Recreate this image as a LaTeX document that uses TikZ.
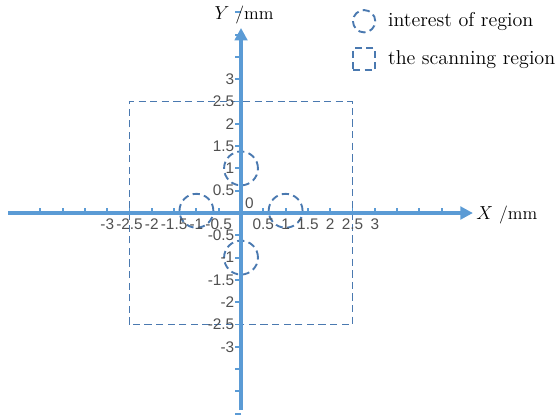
\documentclass[tikz,border=0pt]{standalone}
\usepackage{fontspec}
\newfontfamily\ticksf{Liberation Sans}
\usepackage{xcolor}
\usepackage{tikz}
\usetikzlibrary{positioning}
\usetikzlibrary{arrows.meta,calc}

\definecolor{axisblue}{HTML}{5B9BD5}
\definecolor{regionblue}{HTML}{4A79B0}
\definecolor{ticklabel}{HTML}{505050}

\tikzset{
	axisline/.style={axisblue, line width=2.5pt, -{Triangle[length=8pt,width=8pt]}},
	tickmark/.style={axisblue, line width=1.2pt},
	regionline/.style={regionblue, line width=1.2pt, dash pattern=on 4.6pt off 2.8pt},
	ticknum/.style={ticklabel, font=\ticksf\fontsize{9.8}{10}\selectfont, inner sep=1pt},
	legendtext/.style={font=\fontsize{12.8}{14}\selectfont, anchor=west, inner sep=0pt},
	axislabel/.style={font=\fontsize{11.5}{13}\selectfont, inner sep=0pt},
}

\begin{document}
\begin{tikzpicture}[x=1cm,y=1cm]
	
	\useasboundingbox (-5.404,-4.507) rectangle (7.040,4.776);
	
	% origin and the four ends of the axes
	\coordinate (O) at (0,0);
	\coordinate (XL) at (-5.22,0);
	\coordinate (XR) at (5.20,0);
	\coordinate (YB) at (0,-4.42);
	\coordinate (YT) at (0,4.15);
	
	% the scanning region, 5 x 5
	\coordinate (SLow) at (-2.5,-2.5);
	\coordinate (SHigh) at (2.5,2.5);
	\draw[regionline] (SLow) rectangle (SHigh);
	
	% regions of interest: (angle:radius) round the origin
	\foreach \a in {0,90,180,270}
		\draw[regionline] (\a:1.00cm) ++(0,{0.05*cos(\a)*cos(\a)}) circle (0.38cm);
	
	%%%%%%%%%%%%%%%%%%%%%%%%%%%%%%%%%%%%%%%%%%%%%%%%%%%%%%%%%%%%%%
	% axes
	\draw[axisline] (XL) -- (XR);
	\draw[axisline] (YB) -- (YT);
	
	% tick marks every 0.5
	\foreach \v in {-4.5,-4,...,-0.5,0.5,1,...,4.5}{
		\draw[tickmark] (\v,0) -- ++(0,0.12);
		\draw[tickmark] (0,\v) -- ++(-0.13,0);
	}
	
	% tick labels
	\foreach \v/\t [count=\i] in {-3/-3,-2.5/-2.5,-2/-2,-1.5/-1.5,-1/-1,-0.5/-0.5,
		0.5/0.5,1/1,1.5/1.5,2/2,2.5/2.5,3/3}{
		\node[ticknum, anchor=north] (XT\i) at (\v,-0.09) {\t};
		\node[ticknum, anchor=east] (YT\i) at (-0.11,\v) {\t};
	}
	\node[ticknum] (Zero) at (0.19,0.22) {0};
	
	% axis names
	\node[axislabel, anchor=west] (XLabel) at ($(XR)+(0.07cm,-0.04cm)$) {$X$ /mm};
	\node[axislabel, anchor=south] (YLabel) at ($(YT)+(0.07cm,0.08cm)$) {$Y$ /mm};
	
	% legend
	\node[regionline, draw, circle, minimum size=0.5cm, inner sep=0pt] (LegROI) at (2.76,4.30) {};
	\node[regionline, draw, rectangle, minimum size=0.5cm, inner sep=0pt] (LegScan) at (2.76,3.45) {};
	\node[legendtext, right=0.26cm of LegROI] (LegROILabel) {interest of region};
	\node[legendtext, right=0.26cm of LegScan] (LegScanLabel) {the scanning region};
	
\end{tikzpicture}
\end{document}
